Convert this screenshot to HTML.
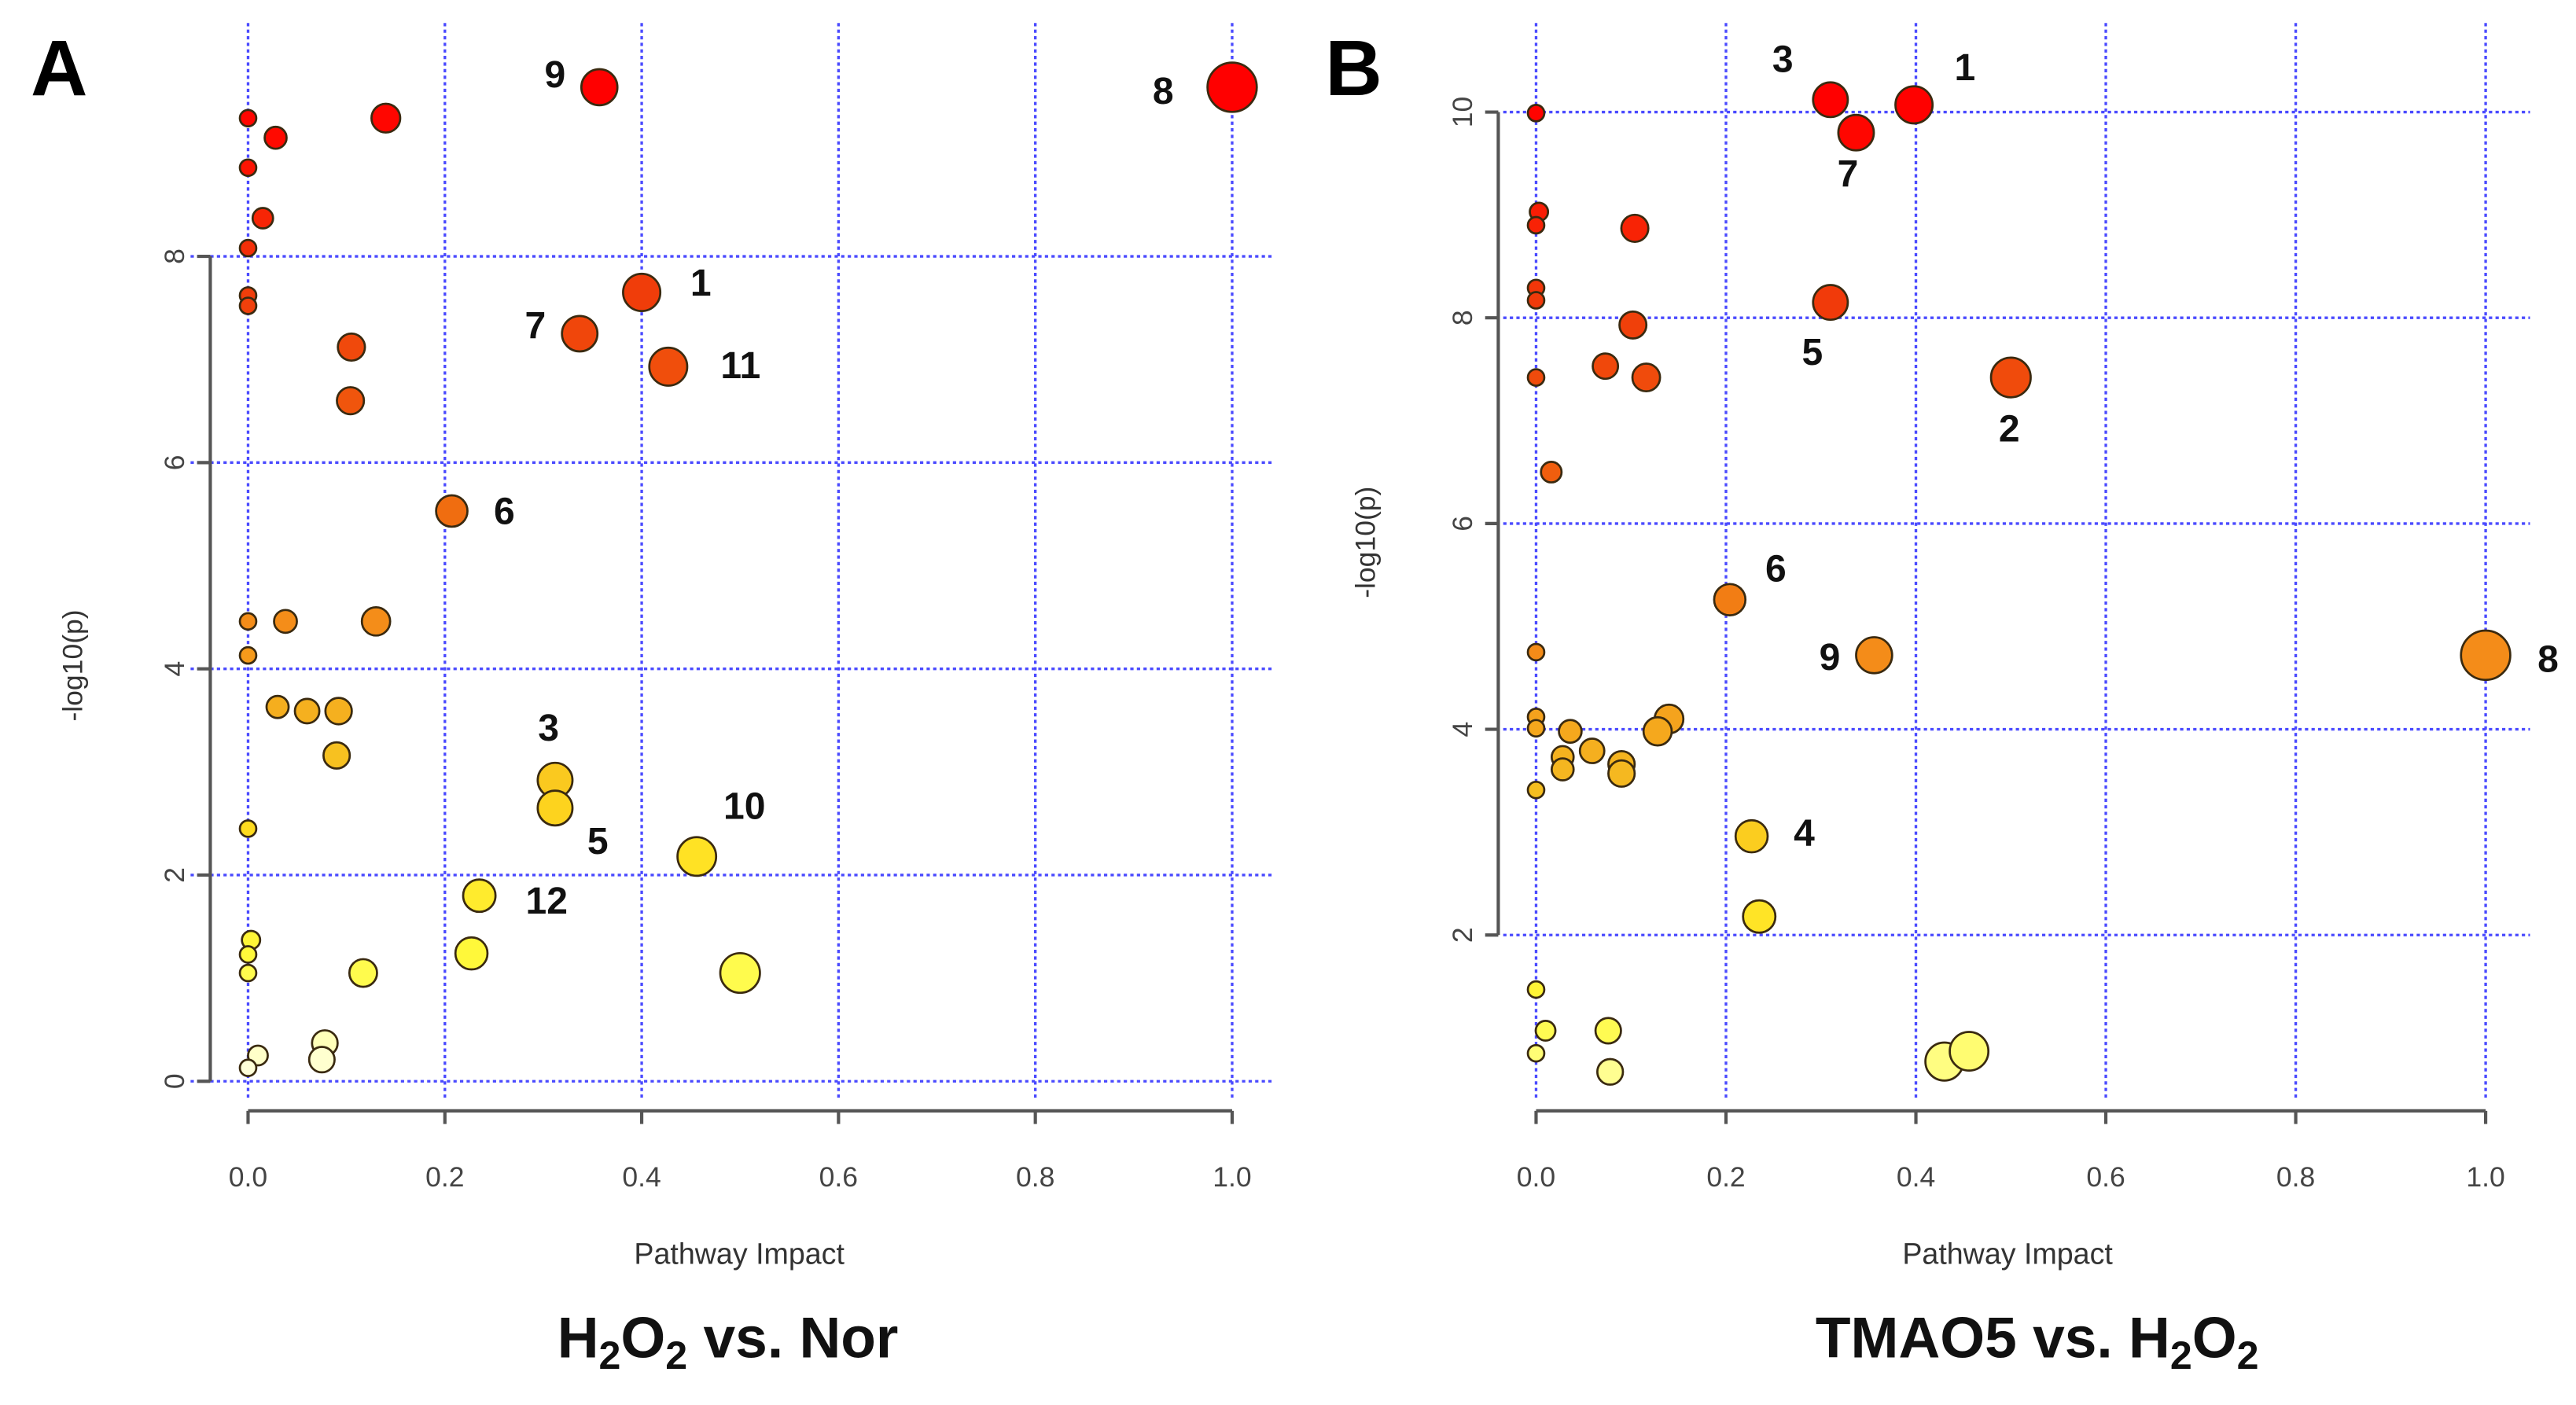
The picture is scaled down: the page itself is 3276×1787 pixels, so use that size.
<!DOCTYPE html>
<html><head><meta charset="utf-8"><style>
html,body{margin:0;padding:0;background:#fff;}
svg{display:block;font-family:"Liberation Sans",sans-serif;}
</style></head><body>
<svg id="fig" width="3276" height="1787" viewBox="0 0 1568 855" preserveAspectRatio="none" xmlns="http://www.w3.org/2000/svg"></svg>
<script>
// Panel A data (H2O2 vs. Nor)
const aImpact = [0,0.028,0.14,0.357,1.0,0,0.015,0,0,0,0.4,0.337,0.427,0.105,0.104,0.207,0,0.038,0.13,0,0.03,0.06,0.092,0.09,0.312,0.312,0,0.456,0.235,0.003,0,0,0.117,0.227,0.5,0.078,0.075,0.01,0];
const aLogP   = [9.34,9.15,9.34,9.64,9.64,8.86,8.37,8.08,7.62,7.52,7.65,7.25,6.93,7.12,6.6,5.53,4.46,4.46,4.46,4.13,3.63,3.59,3.59,3.16,2.92,2.65,2.45,2.18,1.8,1.37,1.23,1.05,1.05,1.24,1.05,0.37,0.21,0.25,0.13];
const aLabels = ["","","","9","8","","","","","","1","7","11","","","6","","","","","","","","","3","5","","10","12","","","","","","","","","",""];
const aYTicks = [0,2,4,6,8];
// Panel B data (TMAO5 vs. H2O2)
const bImpact = [0,0.31,0.398,0.337,0.003,0,0.104,0,0,0.31,0.102,0.073,0.116,0,0.5,0.016,0.204,0.356,1.0,0,0,0,0.036,0.14,0.128,0.028,0.028,0.059,0.09,0.09,0,0.227,0.235,0,0.01,0.076,0,0.078,0.43,0.456];
const bLogP   = [9.99,10.12,10.07,9.8,9.03,8.9,8.87,8.29,8.17,8.15,7.93,7.53,7.42,7.42,7.42,6.5,5.26,4.72,4.72,4.75,4.12,4.01,3.98,4.1,3.98,3.73,3.61,3.79,3.66,3.57,3.41,2.96,2.18,1.47,1.07,1.07,0.85,0.67,0.77,0.87];
const bLabels = ["","3","1","7","","","","","","5","","","","","2","","6","9","8","","","","","","","","","","","","","4","","","","","","","",""];
const bYTicks = [2,4,6,8,10];
const xTicks = [0,0.2,0.4,0.6,0.8,1.0];
const xTickLabels = ["0.0","0.2","0.4","0.6","0.8","1.0"];

const labelOffA = {"9":[-27,-8],"8":[-42,2],"1":[36,-6],"7":[-27,-5],"11":[44,-1],"6":[32,0],"3":[-4,-32],"5":[26,20],"10":[29,-31],"12":[41,3]};
const labelOffB = {"3":[-29,-25],"1":[31,-23],"7":[-5,25],"5":[-11,30],"2":[-1,31],"6":[28,-19],"9":[-27,1],"8":[38,2],"4":[32,-2]};

const NS="http://www.w3.org/2000/svg";
const svg=document.getElementById('fig');
function mk(tag,attrs,parent){const e=document.createElementNS(NS,tag);for(const k in attrs)e.setAttribute(k,attrs[k]);(parent||svg).appendChild(e);return e;}

const ramp=[[0,[255,255,235]],[0.05,[255,255,170]],[0.12,[255,250,60]],[0.25,[255,220,30]],[0.35,[245,185,32]],[0.45,[245,145,26]],[0.57,[240,110,16]],[0.8,[240,60,10]],[0.95,[255,10,0]],[1,[255,0,0]]];
function color(t){t=Math.max(0,Math.min(1,t));for(let i=1;i<ramp.length;i++){if(t<=ramp[i][0]){const a=ramp[i-1],b=ramp[i],f=(t-a[0])/(b[0]-a[0]);const c=a[1].map((v,j)=>Math.round(v+(b[1][j]-v)*f));return `rgb(${c.join(',')})`;}}return 'rgb(255,0,0)';}

function panel(cfg){
  const g=mk('g',{});
  
  
  const sx=v=>cfg.x0+(cfg.x1-cfg.x0)*v;
  const sy=v=>cfg.yB-(v-cfg.yMin)*cfg.yPer;
  const grid=mk('g',{stroke:'#4a4aff','stroke-width':1.6,'stroke-dasharray':'2 2',fill:'none'},g);
  
  
  xTicks.forEach(v=>{mk('line',{x1:sx(v),x2:sx(v),y1:cfg.gTop,y2:cfg.gBot},grid);});
  cfg.yTicks.forEach(v=>{mk('line',{x1:cfg.gL,x2:cfg.gR,y1:sy(v),y2:sy(v)},grid);});
  const ax=mk('g',{stroke:'#555','stroke-width':2,fill:'none'},g);
  
  
  mk('line',{x1:sx(0),x2:sx(1),y1:676,y2:676},ax);
  xTicks.forEach(v=>mk('line',{x1:sx(v),x2:sx(v),y1:676,y2:684},ax));
  const yt=cfg.yTicks;
  mk('line',{x1:cfg.yAx,x2:cfg.yAx,y1:sy(yt[0]),y2:sy(yt[yt.length-1])},ax);
  yt.forEach(v=>mk('line',{x1:cfg.yAx,x2:cfg.yAx-8,y1:sy(v),y2:sy(v)},ax));
  xTicks.forEach((v,i)=>{const t=mk('text',{x:sx(v),y:722,'text-anchor':'middle','font-size':17,fill:'#444'},g);t.textContent=xTickLabels[i];
    });
  yt.forEach(v=>{const t=mk('text',{x:0,y:0,'text-anchor':'middle','font-size':17,fill:'#444',transform:`translate(${cfg.yAx-16},${sy(v)}) rotate(-90)`},g);t.textContent=String(v);
    });
  const xt=mk('text',{x:cfg.xTitleX,y:769,'text-anchor':'middle','font-size':18,fill:'#333'},g);xt.textContent='Pathway Impact';
  
  const ytt=mk('text',{x:0,y:0,'text-anchor':'middle','font-size':17,fill:'#333',transform:`translate(${cfg.yTitleX},${cfg.yTitleY}) rotate(-90)`},g);ytt.textContent='-log10(p)';
  
  const ymax=Math.max(...cfg.ys);
  cfg.xs.forEach((x,i)=>{
    const r=5+10*Math.sqrt(x);
    const c=mk('circle',{cx:sx(x),cy:sy(cfg.ys[i]),r:r,fill:color(cfg.ys[i]/ymax),stroke:'#3a2a10','stroke-width':1.3},g);
    
    
  });
  cfg.labels.forEach((l,i)=>{
    if(!l)return;
    const o=cfg.off[l]||[20,0];
    const t=mk('text',{x:sx(cfg.xs[i])+o[0],y:sy(cfg.ys[i])+o[1]+8,'text-anchor':'middle','font-size':23,'font-weight':'bold',fill:'#111'},g);
    t.textContent=l;
    
    
  });
  const L=mk('text',{x:cfg.letterX,y:58,'text-anchor':'middle','font-size':48,'font-weight':'bold',fill:'#000'},g);L.textContent=cfg.letter;
  
  const T=mk('text',{x:cfg.titleX,y:826,'text-anchor':'middle','font-size':35,'font-weight':'bold',fill:'#111'},g);
  
  cfg.title.forEach(p=>{const s=mk('tspan',p[1]?{'font-size':24,dy:7}:{dy:p[2]||0},T);s.textContent=p[0];});
}

panel({name:'panel-a',x0:151,x1:750,yB:658,yMin:0,yPer:62.75,yTicks:aYTicks,xs:aImpact,ys:aLogP,labels:aLabels,off:labelOffA,
  gTop:14,gBot:670,gL:116,gR:776,yAx:128,xTitleX:450,yTitleX:50,yTitleY:405,letter:'A',letterX:36,titleX:443,
  title:[['H',0],['2',1],['O',0,-7],['2',1],[' vs. Nor',0,-7]]});
panel({name:'panel-b',x0:935,x1:1513,yB:569,yMin:2,yPer:62.6,yTicks:bYTicks,xs:bImpact,ys:bLogP,labels:bLabels,off:labelOffB,
  gTop:14,gBot:670,gL:915,gR:1540,yAx:912,xTitleX:1222,yTitleX:837,yTitleY:330,letter:'B',letterX:824,titleX:1240,
  title:[['TMAO5 vs. H',0],['2',1],['O',0,-7],['2',1]]});
</script>
</body></html>
